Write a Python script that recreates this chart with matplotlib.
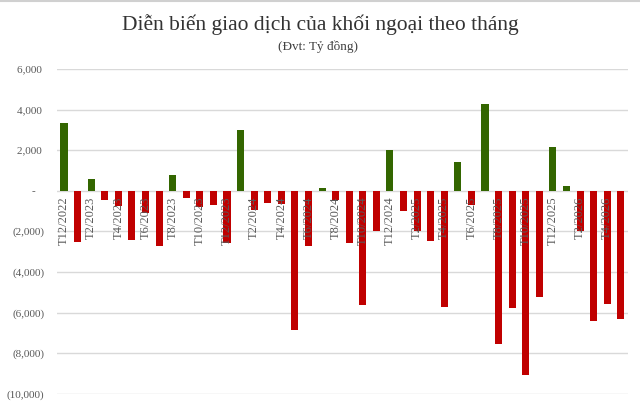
import numpy as np
import matplotlib.pyplot as plt
from matplotlib.ticker import FuncFormatter
from matplotlib.lines import Line2D

plt.rcParams['font.family'] = ['Liberation Serif', 'DejaVu Serif']

months = ['T12/2022',
          'T1/2023', 'T2/2023', 'T3/2023', 'T4/2023', 'T5/2023', 'T6/2023',
          'T7/2023', 'T8/2023', 'T9/2023', 'T10/2023', 'T11/2023', 'T12/2023',
          'T1/2024', 'T2/2024', 'T3/2024', 'T4/2024', 'T5/2024', 'T6/2024',
          'T7/2024', 'T8/2024', 'T9/2024', 'T10/2024', 'T11/2024', 'T12/2024',
          'T1/2025', 'T2/2025', 'T3/2025', 'T4/2025', 'T5/2025', 'T6/2025',
          'T7/2025', 'T8/2025', 'T9/2025', 'T10/2025', 'T11/2025', 'T12/2025',
          'T1/2026', 'T2/2026', 'T3/2026', 'T4/2026', 'T5/2026']

net_value = [3350,
             -2500, 600, -430, -760, -2400, -1100,
             -2730, 800, -330, -800, -710, -2570,
             3000, -920, -600, -630, -6870, -2700,
             130, -430, -2560, -5620, -1990, 2030,
             -1000, -2000, -2450, -5710, 1430, -700,
             4250, -7540, -5760, -9080, -5240, 2180,
             260, -2000, -6420, -5570, -6290]

yticks = [6000, 4000, 2000, 0, -2000, -4000, -6000, -8000, -10000]

GREEN = '#336600'
RED = '#c00000'
TXT = '#595959'

vals = np.array(net_value)
x = np.arange(len(vals))
colors = [GREEN if v > 0 else RED for v in vals]

fig = plt.figure(figsize=(6.4, 4.03), dpi=100)
ax = fig.add_axes([0.089, 0.0223, 0.892, 0.8067])

ax.bar(x, vals, width=0.52, color=colors, zorder=2)

ax.set_xlim(-0.52, len(vals) - 0.48)
ax.set_ylim(-10000, 6000)
ax.set_yticks(yticks)
ax.grid(axis='y', color='#d9d9d9', linewidth=1, zorder=0)
ax.set_xticks([])
for s in ax.spines.values():
	s.set_visible(False)


def acct(v, pos):
	if v == 0:
		return '-   '
	if v < 0:
		return '({:,.0f})'.format(-v)
	return '{:,.0f} '.format(v)


ax.yaxis.set_major_formatter(FuncFormatter(acct))
ax.tick_params(axis='y', length=0, pad=9, labelsize=8, labelcolor=TXT)

# month labels every other bar, drawn inside the plot below the zero line
for i in range(0, len(months), 2):
	ax.annotate(months[i], (x[i], 0), xytext=(0, -4), textcoords='offset points',
	            rotation=90, ha='center', va='top', fontsize=9, color=TXT, zorder=3)

fig.text(0.5, 0.925, 'Diễn biến giao dịch của khối ngoại theo tháng',
         ha='center', va='baseline', fontsize=15.5, color='#333333')
fig.text(0.497, 0.883, '(Đvt: Tỷ đồng)', ha='center', va='center',
         fontsize=9.5, color='#404040')

fig.add_artist(Line2D([0, 1], [0.998, 0.998], transform=fig.transFigure,
                      color='#d0d0d0', linewidth=1.5))

plt.savefig('out.png', dpi=100)
